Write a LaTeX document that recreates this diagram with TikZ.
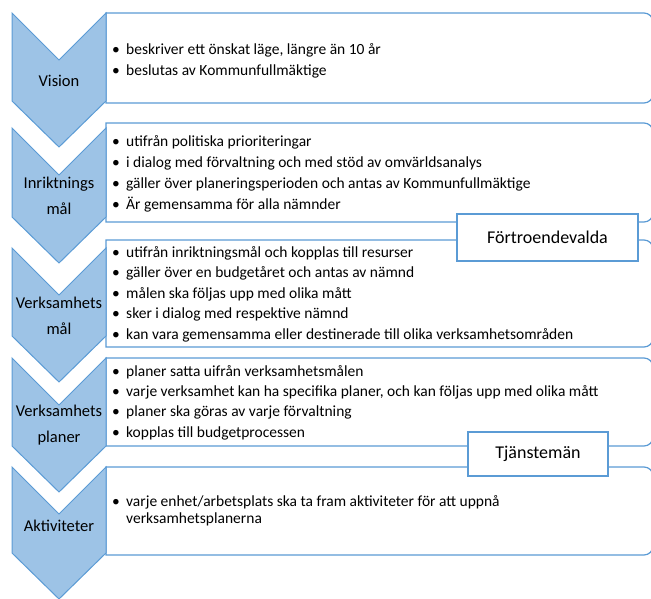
\documentclass[tikz,border=0pt]{standalone}
\usepackage{fontspec}
\setmainfont{Carlito}
\definecolor{chevfill}{HTML}{9DC3E6}
\definecolor{lineblue}{HTML}{5B9BD5}
\newcommand\bl[1]{\rule{0pt}{13pt}\makebox[14pt][l]{\textbullet}#1}
\newcommand\boxpath[2]{(106,#2) -- (106,#1) -- (644,#1) to[out=0,in=90] (653,#1+9) -- (653,#2-9) to[out=-90,in=0] (644,#2) -- cycle}
\begin{document}
\begin{tikzpicture}[x=1pt,y=-1pt,
  chev/.style={fill=chevfill, draw=lineblue, line width=1pt, line join=miter},
  listbox/.style={draw=lineblue, fill=white, line width=1.2pt},
  tagbox/.style={draw=lineblue, fill=white, line width=1.2pt, font=\fontsize{18}{21}\selectfont, inner sep=0pt},
  chevlabel/.style={font=\fontsize{16.5}{26}\selectfont, align=center, inner sep=0pt},
  items/.style={anchor=north west, align=left, inner sep=0pt, font=\fontsize{15.5}{21}\selectfont}]
\useasboundingbox (0,0) rectangle (651,599);
\clip (0,0) rectangle (651,599);
% list boxes
\draw[listbox] \boxpath{13}{103};
\draw[listbox] \boxpath{123}{222};
\draw[listbox] \boxpath{240}{347};
\draw[listbox] \boxpath{358}{446};
\draw[listbox] \boxpath{467}{555};
% tags
\node[tagbox, minimum width=181pt, minimum height=47pt] (tagF) at (547.5,237.5) {Förtroendevalda};
\node[tagbox, minimum width=140pt, minimum height=44pt] (tagT) at (538,454) {Tjänstemän};
% chevrons
\draw[chev] (12,13) -- (59,60) -- (106,13) -- (106,101) -- (59,147) -- (12,101) -- cycle;
\draw[chev] (12,128) -- (59,175) -- (106,128) -- (106,217) -- (59,263) -- (12,217) -- cycle;
\draw[chev] (12,248) -- (59,295) -- (106,248) -- (106,336) -- (59,382) -- (12,336) -- cycle;
\draw[chev] (12,358) -- (59,405) -- (106,358) -- (106,446) -- (59,492) -- (12,446) -- cycle;
\draw[chev] (12,467) -- (59,514) -- (106,467) -- (106,553) -- (59,599) -- (12,553) -- cycle;
% chevron labels
\node[chevlabel] (l1) at (59,81) {Vision};
\node[chevlabel] (l2) at (59,196) {Inriktnings\\mål};
\node[chevlabel] (l3) at (59,316) {Verksamhets\\mål};
\node[chevlabel] (l4) at (59,425) {Verksamhets\\planer};
\node[chevlabel] (l5) at (59,526) {Aktiviteter};
% item texts
\node[items] (t1) at (112,41) {\bl{beskriver ett önskat läge, längre än 10 år}\\
\bl{beslutas av Kommunfullmäktige}};
\node[items, font=\fontsize{15.5}{21}\selectfont] (t2) at (112,133) {\bl{utifrån politiska prioriteringar}\\
\bl{i dialog med förvaltning och med stöd av omvärldsanalys}\\
\bl{gäller över planeringsperioden och antas av Kommunfullmäktige}\\
\bl{Är gemensamma för alla nämnder}};
\node[items, font=\fontsize{15.5}{20.5}\selectfont] (t3) at (112,244) {\bl{utifrån inriktningsmål och kopplas till resurser}\\
\bl{gäller över en budgetåret och antas av nämnd}\\
\bl{målen ska följas upp med olika mått}\\
\bl{sker i dialog med respektive nämnd}\\
\bl{kan vara gemensamma eller destinerade till olika verksamhetsområden}};
\node[items, font=\fontsize{15.5}{20.3}\selectfont] (t4) at (112,363) {\bl{planer satta uifrån verksamhetsmålen}\\
\bl{varje verksamhet kan ha specifika planer, och kan följas upp med olika mått}\\
\bl{planer ska göras av varje förvaltning}\\
\bl{kopplas till budgetprocessen}};
\node[items, font=\fontsize{15.5}{17}\selectfont] (t5) at (112,493) {\bl{varje enhet/arbetsplats ska ta fram aktiviteter för att uppnå}\\
\hspace*{14pt}verksamhetsplanerna};
\end{tikzpicture}
\end{document}
